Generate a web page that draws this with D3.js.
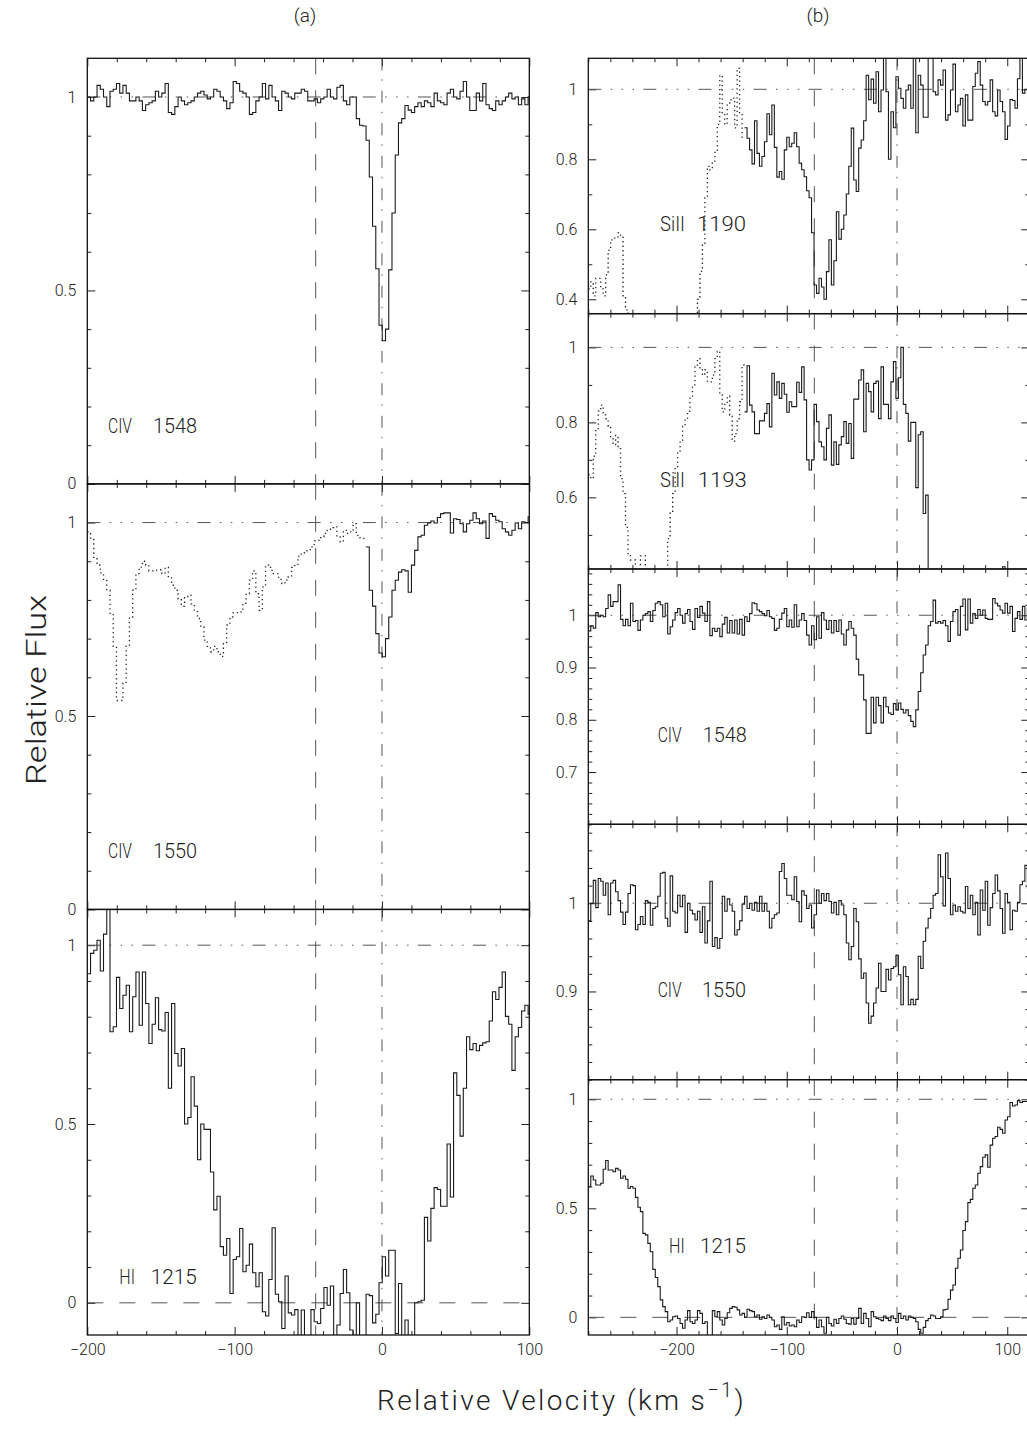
<!DOCTYPE html>
<html>
<head>
<meta charset="utf-8">
<script src="https://cdn.jsdelivr.net/npm/d3@7"></script>
<style>
  body { margin: 0; background: #fff; }
  svg text { font-family: Roboto, "Liberation Sans", sans-serif; font-weight: 300; fill: #222; }
</style>
</head>
<body>
<svg id="chart" width="1027" height="1446"></svg>
<script>
// bin grids (left edge of first bin, bin width in km/s)
const velStartA = -200, velStepA = 2.2;
const velStartB = -280, velStepB = 2.25;

// (a) column
const civ1548a = [1.00,0.99,1.00,1.03,1.02,1.00,0.975,1.015,1.02,1.035,
  1.01,1.03,1.01,0.99,0.99,1.00,0.99,0.965,0.98,0.985,
  0.99,1.015,1.00,1.01,1.035,0.96,0.955,0.975,1.00,0.99,
  0.98,0.985,0.99,1.00,1.01,1.015,1.005,0.995,1.00,1.02,
  1.015,1.00,0.99,0.97,0.985,1.04,1.035,1.015,1.01,1.00,
  0.955,0.96,0.99,1.00,1.035,0.995,1.03,1.00,0.99,0.965,
  1.015,1.01,1.00,0.995,1.01,1.01,1.02,1.015,0.99,0.99,
  0.995,0.985,0.995,1.00,1.02,1.00,0.995,1.025,1.03,0.99,
  0.98,1.00,1.00,0.944,0.927,0.925,0.888,0.793,0.666,0.556,
  0.41,0.37,0.40,0.553,0.70,0.85,0.933,0.944,0.978,0.966,
  0.96,0.975,0.985,0.975,0.99,0.985,0.975,1.01,0.99,0.985,
  0.98,1.01,1.02,1.00,0.995,1.015,1.04,1.00,0.965,0.965,
  1.01,0.99,1.035,0.98,0.97,0.965,0.99,0.98,0.99,1.00,
  1.01,0.995,1.00,0.98,0.995,0.98,1.00];

const civ1550a = [0.976,0.96,0.91,0.89,0.87,0.85,0.825,0.765,0.68,0.54,
  0.54,0.585,0.68,0.755,0.825,0.868,0.885,0.90,0.89,0.875,
  0.875,0.877,0.878,0.868,0.884,0.86,0.838,0.825,0.803,0.784,
  0.808,0.812,0.79,0.77,0.752,0.73,0.696,0.68,0.666,0.68,
  0.666,0.654,0.687,0.735,0.756,0.767,0.767,0.769,0.792,0.816,
  0.851,0.875,0.816,0.773,0.834,0.89,0.884,0.868,0.868,0.853,
  0.842,0.851,0.86,0.884,0.892,0.913,0.922,0.927,0.93,0.937,
  0.953,0.954,0.963,0.972,0.98,0.987,0.989,0.963,0.95,0.98,
  0.972,0.976,0.997,0.967,0.961,0.959,0.937,0.825,0.784,0.713,
  0.663,0.653,0.70,0.756,0.825,0.851,0.872,0.878,0.875,0.82,
  0.89,0.928,0.963,0.967,0.993,0.999,1.004,0.999,1.013,1.023,
  1.025,1.025,0.973,1.01,1.008,0.997,0.976,0.997,1.006,1.025,
  1.01,0.997,1.004,0.959,1.023,1.016,1.006,1.002,0.984,0.976,
  0.967,0.98,0.999,0.984,1.002,1.0,1.015];

const hi1215a = [0.92,0.977,0.986,1.014,0.928,1.031,1.2,0.758,0.772,0.91,
  0.823,0.86,0.888,0.758,0.856,0.925,0.776,0.925,0.837,0.725,
  0.779,0.853,0.764,0.76,0.812,0.60,0.837,0.697,0.662,0.711,
  0.50,0.518,0.632,0.55,0.40,0.50,0.485,0.485,0.366,0.26,
  0.298,0.157,0.133,0.18,0.026,0.121,0.129,0.208,0.087,0.105,
  0.164,0.084,0.045,0.084,-0.025,-0.037,0.065,0.21,0.024,0.003,
  -0.072,0.075,-0.028,-0.034,-0.019,-0.15,-0.02,-0.15,-0.15,-0.019,
  -0.053,-0.058,-0.016,0.043,-0.007,0.047,-0.15,-0.062,0.026,0.093,
  0.028,-0.076,-0.15,0.0,-0.15,-0.15,0.024,0.02,-0.056,-0.032,
  0.056,0.129,0.075,0.147,0.147,-0.086,0.054,-0.1,-0.048,-0.15,
  -0.15,0.0,0.003,0.007,0.239,0.173,0.264,0.322,0.317,0.27,
  0.27,0.444,0.296,0.643,0.58,0.466,0.60,0.744,0.708,0.725,
  0.705,0.72,0.727,0.73,0.788,0.87,0.848,0.882,0.925,0.801,
  0.779,0.65,0.744,0.77,0.816,0.832,0.807];

// (b) column
const si1190b = [0.43,0.45,0.41,0.46,0.46,0.43,0.41,0.47,0.54,0.57,
  0.575,0.575,0.59,0.58,0.41,0.37,0.34,0.3,0.3,0.3,
  0.3,0.3,0.3,0.3,0.3,0.3,0.3,0.3,0.3,0.3,
  0.3,0.3,0.3,0.3,0.3,0.3,0.3,0.3,0.3,0.3,
  0.3,0.3,0.3,0.3,0.40,0.48,0.56,0.69,0.78,0.77,
  0.79,0.82,0.90,1.04,0.93,0.90,0.955,0.97,0.975,0.89,
  1.06,0.93,0.86,0.89,0.86,0.827,0.787,0.91,0.817,0.78,
  0.808,0.85,0.93,0.87,0.955,0.834,0.749,0.765,0.743,0.827,
  0.863,0.836,0.846,0.876,0.836,0.789,0.77,0.75,0.71,0.69,
  0.59,0.441,0.417,0.46,0.435,0.40,0.479,0.57,0.441,0.51,
  0.65,0.572,0.60,0.641,0.701,0.78,0.889,0.741,0.708,0.832,
  0.855,0.91,1.04,0.97,1.029,0.96,1.05,0.936,0.998,1.12,
  0.993,0.80,0.936,0.89,1.036,1.003,0.974,0.946,0.998,1.012,
  0.946,1.12,0.876,1.04,1.012,0.92,0.92,1.12,1.12,0.993,
  0.984,1.027,1.012,1.055,0.912,0.927,0.998,1.072,0.936,0.955,
  0.974,0.895,0.984,0.912,0.912,1.008,1.046,1.079,1.012,0.965,
  0.955,0.965,1.027,0.936,0.924,0.998,0.965,0.936,0.857,0.895,
  0.971,0.968,0.946,1.03,1.12,0.989,1.0,1.0];

const si1193b = [0.66,0.65,0.71,0.78,0.83,0.846,0.82,0.81,0.79,0.76,
  0.74,0.765,0.73,0.65,0.61,0.52,0.45,0.433,0.433,0.38,
  0.38,0.444,0.444,0.3,0.3,0.3,0.3,0.3,0.3,0.3,
  0.3,0.3,0.49,0.56,0.61,0.68,0.72,0.75,0.79,0.806,
  0.83,0.87,0.90,0.948,0.97,0.94,0.926,0.94,0.91,0.908,
  0.926,0.97,0.99,0.873,0.828,0.85,0.87,0.82,0.75,0.77,
  0.81,0.855,0.953,0.828,0.951,0.846,0.828,0.77,0.77,0.804,
  0.804,0.824,0.85,0.788,0.931,0.873,0.908,0.864,0.904,0.875,
  0.827,0.855,0.842,0.842,0.907,0.88,0.948,0.86,0.70,0.673,
  0.70,0.848,0.802,0.748,0.735,0.70,0.784,0.82,0.686,0.748,
  0.688,0.74,0.762,0.802,0.744,0.797,0.704,0.862,0.862,0.913,
  0.94,0.775,0.904,0.882,0.828,0.904,0.91,0.81,0.948,0.848,
  0.848,0.81,0.908,0.962,0.864,0.919,1.0,0.848,0.824,0.75,
  0.80,0.80,0.626,0.767,0.775,0.557,0.606,0.2,0.2,0.2,
  0.2,0.2,0.2,0.2,0.2,0.2,0.2,0.2,0.2,0.2,
  0.2,0.2,0.2,0.2,0.2,0.2,0.2,0.2,0.2,0.2,
  0.2,0.2,0.2,0.2,0.2,0.2,0.2,0.415,0.2,0.2,
  0.2,0.2,0.2,0.2,0.2,0.2,0.2,0.2];

const civ1548b = [0.97,0.98,0.975,1.005,0.997,1.0,0.997,1.013,1.039,1.017,
  1.026,1.026,1.058,0.992,0.98,0.992,0.98,1.023,0.988,0.99,
  0.971,0.991,1.0,1.003,1.007,0.988,1.009,1.023,1.026,1.02,
  0.997,1.023,0.964,0.978,0.991,1.005,1.013,1.0,0.985,1.003,
  1.011,0.988,0.973,1.013,0.996,1.017,1.004,0.988,1.026,0.961,
  0.975,0.969,0.975,0.959,0.983,0.996,0.966,0.99,0.966,0.991,
  0.964,0.992,0.962,0.997,0.988,1.003,1.024,1.022,1.01,1.007,
  1.003,0.999,1.009,0.997,0.994,0.971,0.975,0.992,1.004,1.013,
  0.978,0.991,0.977,1.02,0.978,0.991,1.003,0.99,0.962,0.943,
  0.98,0.953,0.997,0.956,1.005,0.991,0.973,0.99,0.966,0.99,
  0.969,0.991,0.964,0.943,0.972,0.988,0.975,0.962,0.916,0.886,
  0.886,0.838,0.774,0.774,0.843,0.794,0.843,0.827,0.794,0.843,
  0.825,0.813,0.81,0.831,0.819,0.832,0.82,0.813,0.819,0.808,
  0.797,0.787,0.819,0.854,0.89,0.924,0.943,0.98,0.988,1.029,
  0.985,0.988,0.985,0.99,0.98,0.95,0.988,1.007,1.011,0.962,
  1.017,1.031,0.972,1.031,0.985,1.003,0.994,1.011,1.0,1.01,
  0.994,0.992,0.992,1.032,1.023,1.018,1.01,1.004,1.023,1.004,
  1.017,0.969,0.994,1.007,0.992,1.017,0.991,1.013];

const civ1550b = [0.98,1.0,1.026,0.995,1.028,1.025,1.009,1.023,0.987,1.023,
  1.026,1.013,1.003,0.99,0.976,0.99,1.011,1.021,1.02,0.97,
  0.976,0.985,0.976,1.003,1.001,0.975,0.994,0.996,1.008,1.034,
  1.035,0.983,0.974,1.031,0.991,0.989,1.009,0.996,1.009,0.967,
  1.0,0.992,0.988,0.981,0.991,0.967,0.996,0.955,0.98,1.025,
  0.951,0.961,0.949,0.96,1.008,0.991,1.005,0.998,0.991,0.964,
  0.97,0.98,0.999,1.008,0.994,1.0,0.992,1.001,0.991,1.008,
  0.991,1.0,0.991,0.972,0.983,0.987,0.989,1.036,1.045,1.028,
  1.009,1.009,1.004,1.03,1.002,0.979,1.014,1.009,0.994,0.998,
  0.972,0.987,1.015,1.0,1.011,1.003,1.011,1.002,0.989,1.001,
  0.987,1.003,0.998,0.987,0.955,0.936,0.951,0.994,0.979,0.937,
  0.915,0.921,0.887,0.864,0.872,0.887,0.904,0.932,0.9,0.9,
  0.925,0.913,0.926,0.928,0.941,0.919,0.885,0.928,0.917,0.885,
  0.891,0.885,0.891,0.94,0.926,0.957,0.972,0.983,0.994,1.009,
  1.011,1.055,1.03,0.997,1.057,1.028,0.987,0.998,0.991,0.996,
  0.991,0.989,1.019,0.994,1.009,0.987,1.001,0.964,1.015,0.992,
  1.025,0.975,0.995,1.011,1.032,1.014,0.994,0.966,1.011,1.001,
  0.97,0.992,0.991,1.001,1.021,1.025,1.043,1.017];

const hi1215b = [0.6,0.648,0.63,0.607,0.607,0.615,0.679,0.719,0.676,0.676,
  0.668,0.683,0.676,0.638,0.648,0.633,0.592,0.6,0.592,0.55,
  0.505,0.485,0.385,0.378,0.339,0.301,0.22,0.183,0.141,0.08,
  0.049,0.026,-0.02,-0.012,0.003,0.006,-0.005,-0.028,-0.05,-0.012,
  0.031,-0.02,-0.028,-0.012,0.031,0.018,-0.028,-0.02,-0.1,-0.1,
  0.031,0.003,0.026,-0.012,-0.035,-0.005,0.021,0.041,0.049,0.046,
  0.034,0.011,0.018,0.0,0.037,0.031,0.026,0.003,0.011,-0.009,
  0.003,-0.005,0.011,0.0,-0.012,-0.043,-0.035,-0.055,0.003,-0.035,
  -0.024,-0.04,-0.035,-0.043,-0.012,-0.024,0.003,0.0,0.021,0.0,
  0.026,0.0,-0.046,-0.012,-0.043,-0.073,0.0,-0.028,-0.04,-0.009,
  -0.028,-0.005,0.006,-0.009,-0.028,-0.031,-0.005,-0.031,-0.005,0.041,
  -0.028,0.018,-0.005,-0.043,0.026,0.003,-0.005,-0.009,-0.015,0.006,
  -0.005,-0.015,0.006,-0.005,-0.024,0.018,-0.005,0.006,-0.012,0.006,
  0.0,-0.005,-0.02,-0.055,-0.073,-0.046,-0.015,-0.005,0.011,0.006,
  -0.005,-0.005,0.003,0.034,0.037,0.083,0.125,0.148,0.225,0.271,
  0.309,0.398,0.439,0.526,0.541,0.592,0.607,0.661,0.691,0.734,
  0.745,0.688,0.79,0.821,0.829,0.872,0.862,0.844,0.905,0.92,
  0.985,0.969,0.974,0.994,0.985,0.99,0.99,0.99];

// velocity marks
const markerA = -45, markerB = -75;
const xTicksMajor = [-200, -100, 0, 100];

const svg = d3.select('#chart');

const colA = {x0: 87.3, x1: 529.3, domain: [-200, 100], marker: markerA, v0: velStartA, dv: velStepA};
const colB = {x0: 588.3, x1: 1029.3, domain: [-280, 120], marker: markerB, v0: velStartB, dv: velStepB};

const hA = (1335 - 58.3) / 3, hB = (1335 - 58.3) / 5;

const panels = [
  {col: colA, top: 58.3, h: hA, yd: [0, 1.1], major: [0, 0.5, 1], minor: 0.1, flux: civ1548a, solidFrom: 0,
   ion: 'CIV', wave: '1548', lab: [108, 24, 197, 44, 432.7]},
  {col: colA, top: 58.3 + hA, h: hA, yd: [0, 1.1], major: [0, 0.5, 1], minor: 0.1, flux: civ1550a, solidFrom: 86,
   ion: 'CIV', wave: '1550', lab: [108, 24, 197, 44, 857.7]},
  {col: colA, top: 58.3 + 2 * hA, h: hA, yd: [-0.09, 1.1], major: [0, 0.5, 1], minor: 0.1, flux: hi1215a, solidFrom: 0,
   ion: 'HI', wave: '1215', lab: [119.3, 15.7, 196.7, 46, 1284], zero: true, xlab: true},
  {col: colB, top: 58.3, h: hB, yd: [0.359, 1.0886], major: [0.4, 0.6, 0.8, 1], minor: 0.1, flux: si1190b, solidFrom: 63,
   ion: 'SiII', wave: '1190', lab: [660, 25, 746, 49, 230.7]},
  {col: colB, top: 58.3 + hB, h: hB, yd: [0.409, 1.09], major: [0.6, 0.8, 1], minor: 0.1, flux: si1193b, solidFrom: 63,
   ion: 'SiII', wave: '1193', lab: [660, 25, 746.7, 49, 486.7]},
  {col: colB, top: 58.3 + 2 * hB, h: hB, yd: [0.6, 1.0885], major: [0.7, 0.8, 0.9, 1], minor: 0.02, flux: civ1548b, solidFrom: 0,
   ion: 'CIV', wave: '1548', lab: [657.7, 24, 746.7, 44, 741.7]},
  {col: colB, top: 58.3 + 3 * hB, h: hB, yd: [0.8, 1.0895], major: [0.9, 1], minor: 0.02, flux: civ1550b, solidFrom: 0,
   ion: 'CIV', wave: '1550', lab: [657.7, 24, 746, 44, 996.7]},
  {col: colB, top: 58.3 + 4 * hB, h: hB, yd: [-0.081, 1.09], major: [0, 0.5, 1], minor: 0.1, flux: hi1215b, solidFrom: 0,
   ion: 'HI', wave: '1215', lab: [669, 15.7, 746, 46, 1252.7], zero: true, xlab: true}
];

panels.forEach((p, i) => {
  const c = p.col;
  const bottom = p.top + p.h;
  const x = d3.scaleLinear().domain(c.domain).range([c.x0, c.x1]);
  const y = d3.scaleLinear().domain(p.yd).range([bottom, p.top]);
  const g = svg.append('g');

  const clipId = 'clip' + i;
  g.append('clipPath').attr('id', clipId).append('rect')
    .attr('x', c.x0).attr('y', p.top).attr('width', c.x1 - c.x0).attr('height', p.h);

  // minor / major tick values
  const xMinor = d3.range(c.domain[0], c.domain[1] + 0.01, 20).filter(v => v % 100 !== 0);
  const yMinor = d3.range(Math.ceil(p.yd[0] / p.minor - 1e-6) * p.minor, p.yd[1], p.minor)
    .map(v => +v.toFixed(3)).filter(v => !p.major.some(m => Math.abs(m - v) < 1e-6));

  const axes = [
    [() => d3.axisBottom(x), `translate(0,${bottom})`, xMinor, xTicksMajor, p.xlab, true],
    [() => d3.axisTop(x), `translate(0,${p.top})`, xMinor, xTicksMajor, false, true],
    [() => d3.axisLeft(y), `translate(${c.x0},0)`, yMinor, p.major, true, false],
    [() => d3.axisRight(y), `translate(${c.x1},0)`, yMinor, p.major, false, false]
  ];
  axes.forEach(([mk, tr, minor, major, labels, isX]) => {
    g.append('g').attr('transform', tr).attr('color', '#222')
      .call(mk().tickValues(minor).tickSize(-4).tickFormat(''))
      .call(s => s.select('.domain').remove());
    const gm = g.append('g').attr('transform', tr).attr('color', '#222')
      .call(mk().tickValues(major).tickSize(-8).tickPadding(isX ? 9 : 11)
        .tickFormat(labels ? (isX ? d3.format('d') : d3.format('~g')) : ''))
      .call(s => s.select('.domain').remove());
    gm.selectAll('text').attr('fill', '#222').style('font-size', '16px');
  });

  const ref = g.append('g').attr('clip-path', `url(#${clipId})`)
    .attr('stroke', '#555').attr('stroke-width', 1).attr('fill', 'none');
  // continuum
  ref.append('line').attr('x1', c.x0).attr('x2', c.x1).attr('y1', y(1)).attr('y2', y(1))
    .attr('stroke-dasharray', '13 9.4 1.5 9.4 1.5 9.4 1.5 9.4');
  if (p.zero) {
    ref.append('line').attr('x1', c.x0).attr('x2', c.x1).attr('y1', y(0)).attr('y2', y(0))
      .attr('stroke-dasharray', '16 16');
  }
  ref.append('line').attr('x1', x(c.marker)).attr('x2', x(c.marker)).attr('y1', p.top).attr('y2', bottom)
    .attr('stroke-dasharray', '16 16');
  ref.append('line').attr('x1', x(0)).attr('x2', x(0)).attr('y1', p.top).attr('y2', bottom)
    .attr('stroke-dasharray', '12 9 1.5 10');

  // spectrum histogram
  const line = d3.line().x(d => x(d[0])).y(d => y(d[1])).curve(d3.curveStepAfter);
  const pts = (a, b) => {
    const out = [];
    for (let k = a; k < b; k++) out.push([c.v0 + k * c.dv, p.flux[k]]);
    out.push([c.v0 + b * c.dv, p.flux[b - 1]]);
    return out;
  };
  const spec = g.append('g').attr('clip-path', `url(#${clipId})`).attr('fill', 'none');
  if (p.solidFrom > 0) {
    spec.append('path').attr('d', line(pts(0, p.solidFrom)))
      .attr('stroke', '#222').attr('stroke-width', 1.3).attr('stroke-dasharray', '1.3 3.2');
  }
  spec.append('path').attr('d', line(pts(p.solidFrom, p.flux.length)))
    .attr('stroke', '#1a1a1a').attr('stroke-width', 1.1);

  // frame
  g.append('rect').attr('x', c.x0).attr('y', p.top).attr('width', c.x1 - c.x0).attr('height', p.h)
    .attr('fill', 'none').attr('stroke', '#111').attr('stroke-width', 1.3);

  // transition label
  const [nx, nw, wx, ww, ly] = p.lab;
  g.append('text').attr('x', nx).attr('y', ly).attr('font-size', 20)
    .attr('textLength', nw).attr('lengthAdjust', 'spacingAndGlyphs').text(p.ion);
  g.append('text').attr('x', wx - ww).attr('y', ly).attr('font-size', 20)
    .attr('textLength', ww).attr('lengthAdjust', 'spacingAndGlyphs').text(p.wave);
});

// column titles and axis titles
svg.append('text').attr('x', 305).attr('y', 22).attr('text-anchor', 'middle').attr('font-size', 19).text('(a)');
svg.append('text').attr('x', 818).attr('y', 22).attr('text-anchor', 'middle').attr('font-size', 19).text('(b)');

svg.append('text').attr('transform', 'translate(46,690) rotate(-90)').attr('text-anchor', 'middle')
  .attr('font-size', 28).attr('textLength', 190).attr('lengthAdjust', 'spacingAndGlyphs').text('Relative Flux');

const xt = svg.append('text').attr('x', 377).attr('y', 1410).attr('font-size', 28)
  .attr('letter-spacing', 2.4);
xt.append('tspan').text('Relative Velocity (km s');
xt.append('tspan').attr('dy', -13).attr('font-size', 20).text('\u22121');
xt.append('tspan').attr('dy', 13).text(')');
</script>
</body>
</html>
